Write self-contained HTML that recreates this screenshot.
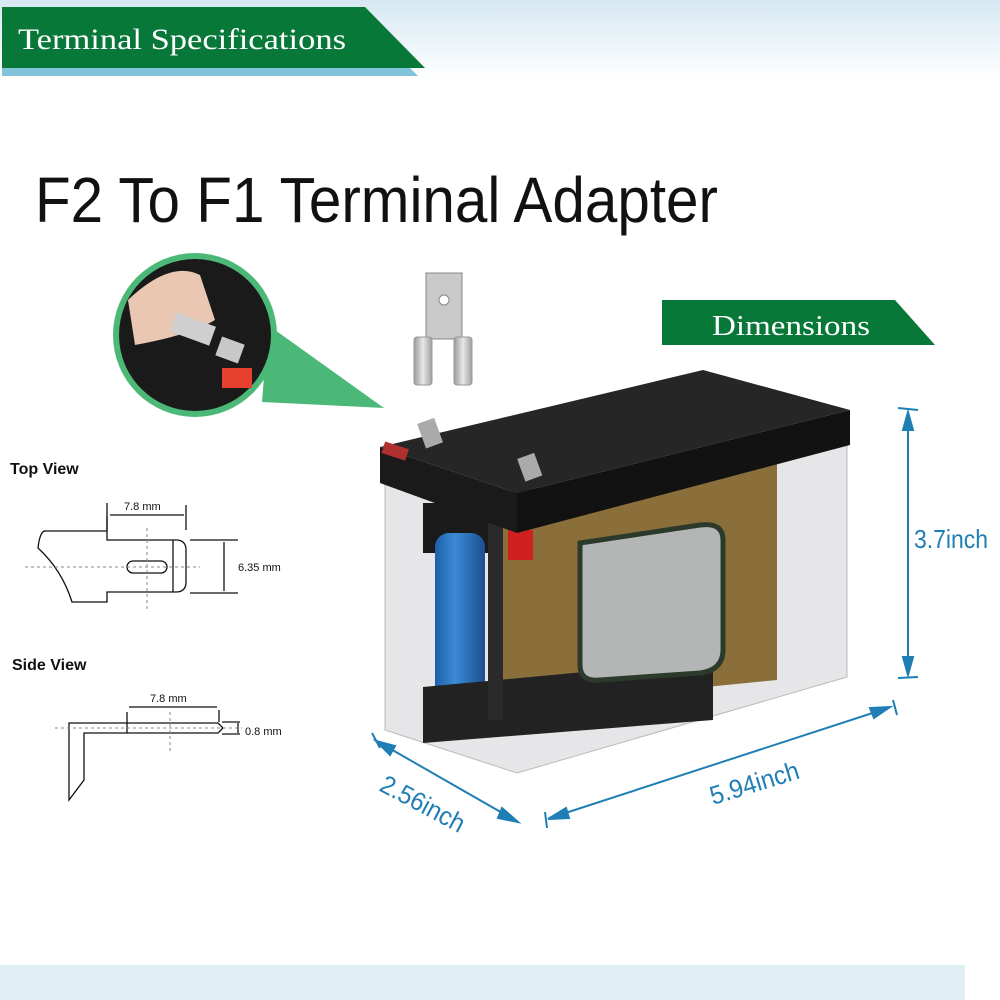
<!DOCTYPE html>
<html><head><meta charset="utf-8"><style>
body{margin:0;background:#fff}
svg{display:block}
</style></head><body>
<svg width="1000" height="1000" viewBox="0 0 1000 1000" xmlns="http://www.w3.org/2000/svg">
<defs>
<linearGradient id="sky" x1="0" y1="0" x2="0" y2="1"><stop offset="0" stop-color="#d6e8f2"/><stop offset="1" stop-color="#ffffff"/></linearGradient>
<linearGradient id="blu" x1="0" y1="0" x2="1" y2="0"><stop offset="0" stop-color="#1e5fa8"/><stop offset="0.4" stop-color="#3b8ad6"/><stop offset="1" stop-color="#1c4f8f"/></linearGradient>
<linearGradient id="met" x1="0" y1="0" x2="1" y2="0"><stop offset="0" stop-color="#9a9a9a"/><stop offset="0.5" stop-color="#e8e8e8"/><stop offset="1" stop-color="#a0a0a0"/></linearGradient>
</defs>
<rect width="1000" height="80" fill="url(#sky)"/>
<polygon points="2,68 410,68 418,76 2,76" fill="#82c3dc"/>
<polygon points="2,7 365,7 425,68 2,68" fill="#077838"/>
<text x="18" y="49" font-family="Liberation Serif,serif" font-size="30" fill="#fff" textLength="328" lengthAdjust="spacingAndGlyphs">Terminal Specifications</text>

<text x="35" y="222" font-family="Liberation Sans,sans-serif" font-size="64" fill="#111" textLength="683" lengthAdjust="spacingAndGlyphs">F2 To F1 Terminal Adapter</text>

<!-- circle inset -->
<polygon points="268,325 262,402 384,408" fill="#4cb878"/>
<circle cx="195" cy="335" r="82" fill="#4cb878"/>
<circle cx="195" cy="335" r="76" fill="#1a1a1a"/>
<path d="M128,300 Q170,260 200,275 L215,320 Q190,335 135,345 Z" fill="#e9c7b2"/>
<rect x="172" y="318" width="42" height="20" fill="#cfcfcf" transform="rotate(20 190 328)"/>
<rect x="218" y="340" width="24" height="20" fill="#c8c8c8" transform="rotate(20 230 350)"/>
<rect x="222" y="368" width="30" height="20" fill="#e8402f"/>

<!-- adapter -->
<rect x="426" y="273" width="36" height="66" fill="#c9c9c9" stroke="#888"/>
<circle cx="444" cy="300" r="5" fill="#fff" stroke="#888"/>
<rect x="414" y="337" width="18" height="48" rx="3" fill="url(#met)" stroke="#999"/>
<rect x="454" y="337" width="18" height="48" rx="3" fill="url(#met)" stroke="#999"/>

<!-- dimensions banner -->
<polygon points="662,300 895,300 935,345 662,345" fill="#077838"/>
<text x="712" y="335" font-family="Liberation Serif,serif" font-size="28" fill="#fff" textLength="158" lengthAdjust="spacingAndGlyphs">Dimensions</text>

<!-- Top view -->
<g font-family="Liberation Sans,sans-serif" fill="#111">
<text x="10" y="474" font-size="16" font-weight="bold">Top View</text>
<text x="12" y="670" font-size="16" font-weight="bold">Side  View</text>
<text x="124" y="510" font-size="11">7.8 mm</text>
<text x="238" y="571" font-size="11">6.35 mm</text>
<text x="150" y="702" font-size="11">7.8 mm</text>
<text x="245" y="735" font-size="11">0.8 mm</text>
</g>
<g stroke="#111" stroke-width="1.3" fill="none">
<path d="M107,516 L107,540 L176,540 Q186,540 186,550 L186,582 Q186,592 176,592 L107,592 L107,602 L72,602 Q62,570 38,548 Q40,530 46,531 L107,531 Z"/>
<line x1="107" y1="503" x2="107" y2="530"/><line x1="186" y1="505" x2="186" y2="530"/>
<line x1="110" y1="515" x2="184" y2="515"/>
<rect x="127" y="561" width="40" height="12" rx="6"/>
<line x1="173" y1="540" x2="173" y2="592"/>
<line x1="190" y1="540" x2="238" y2="540"/><line x1="190" y1="593" x2="238" y2="593"/>
<line x1="224" y1="542" x2="224" y2="591"/>
<path d="M69,800 L69,723 L218,723 L223,728 L218,733 L84,733 L84,780 Z"/>
<line x1="127" y1="712" x2="127" y2="733"/><line x1="219" y1="710" x2="219" y2="722"/>
<line x1="129" y1="707" x2="217" y2="707"/>
<line x1="222" y1="722" x2="240" y2="722"/><line x1="222" y1="734" x2="240" y2="734"/><line x1="238" y1="723" x2="238" y2="733"/>
</g>
<g stroke="#888" stroke-width="1" stroke-dasharray="3,3" fill="none">
<line x1="25" y1="567" x2="200" y2="567"/><line x1="147" y1="528" x2="147" y2="612"/>
<line x1="55" y1="728" x2="242" y2="728"/><line x1="170" y1="712" x2="170" y2="752"/>
</g>

<!-- battery -->
<polygon points="385,483 517,533 847,445 847,677 517,773 385,730" fill="#e6e6e8" stroke="#bbb"/>
<polygon points="503,493 777,455 777,680 503,707" fill="#8a6f3a"/>
<rect x="423" y="503" width="75" height="50" fill="#1a1a1a"/>
<rect x="435" y="533" width="50" height="184" rx="14" fill="url(#blu)"/>
<polygon points="423,687 713,660 713,720 423,743" fill="#222"/>
<rect x="488" y="510" width="15" height="210" fill="#2a2a2a"/>
<path d="M580,543 L700,525 Q723,522 723,540 L723,650 Q723,670 700,673 L600,680 Q580,682 580,665 Z" fill="#b4b6b6" stroke="#2c3a2c" stroke-width="5"/>
<rect x="508" y="530" width="25" height="30" fill="#d02020"/>
<polygon points="380,447 703,370 850,410 517,493" fill="#262626"/>
<polygon points="517,493 850,410 850,445 517,533" fill="#121212"/>
<polygon points="380,447 517,493 517,533 380,483" fill="#1a1a1a"/>
<rect x="383" y="445" width="25" height="12" fill="#b03030" transform="rotate(18 395 450)"/>
<rect x="420" y="420" width="18" height="26" fill="#aaa" transform="rotate(-20 430 430)"/>
<rect x="520" y="455" width="18" height="24" fill="#aaa" transform="rotate(-20 530 465)"/>

<!-- dimension lines -->
<g stroke="#1f7fb5" stroke-width="2" fill="#1f7fb5">
<line x1="908" y1="415" x2="908" y2="672"/>
<line x1="898" y1="408" x2="918" y2="410"/><line x1="898" y1="678" x2="918" y2="677"/>
<polygon points="908,412 903,430 913,430"/><polygon points="908,675 903,657 913,657"/>
<line x1="550" y1="818" x2="888" y2="708"/>
<line x1="545" y1="812" x2="547" y2="828"/><line x1="893" y1="700" x2="897" y2="715"/>
<polygon points="890,707 870,708 874,718"/><polygon points="548,819 566,808 569,818"/>
<line x1="375" y1="740" x2="518" y2="822"/>
<line x1="372" y1="733" x2="380" y2="748"/>
<polygon points="376,741 390,755 395,746"/><polygon points="518,822 502,808 498,818"/>
</g>
<g font-family="Liberation Sans,sans-serif" fill="#1f7fb5" font-size="26">
<text x="914" y="548" textLength="74" lengthAdjust="spacingAndGlyphs">3.7inch</text>
<text x="713" y="805" transform="rotate(-17 713 805)" textLength="92" lengthAdjust="spacingAndGlyphs">5.94inch</text>
<text x="378" y="790" transform="rotate(28 378 790)" textLength="92" lengthAdjust="spacingAndGlyphs">2.56inch</text>
</g>

<rect x="0" y="965" width="965" height="35" fill="#e0eef5"/>
</svg>
</body></html>
